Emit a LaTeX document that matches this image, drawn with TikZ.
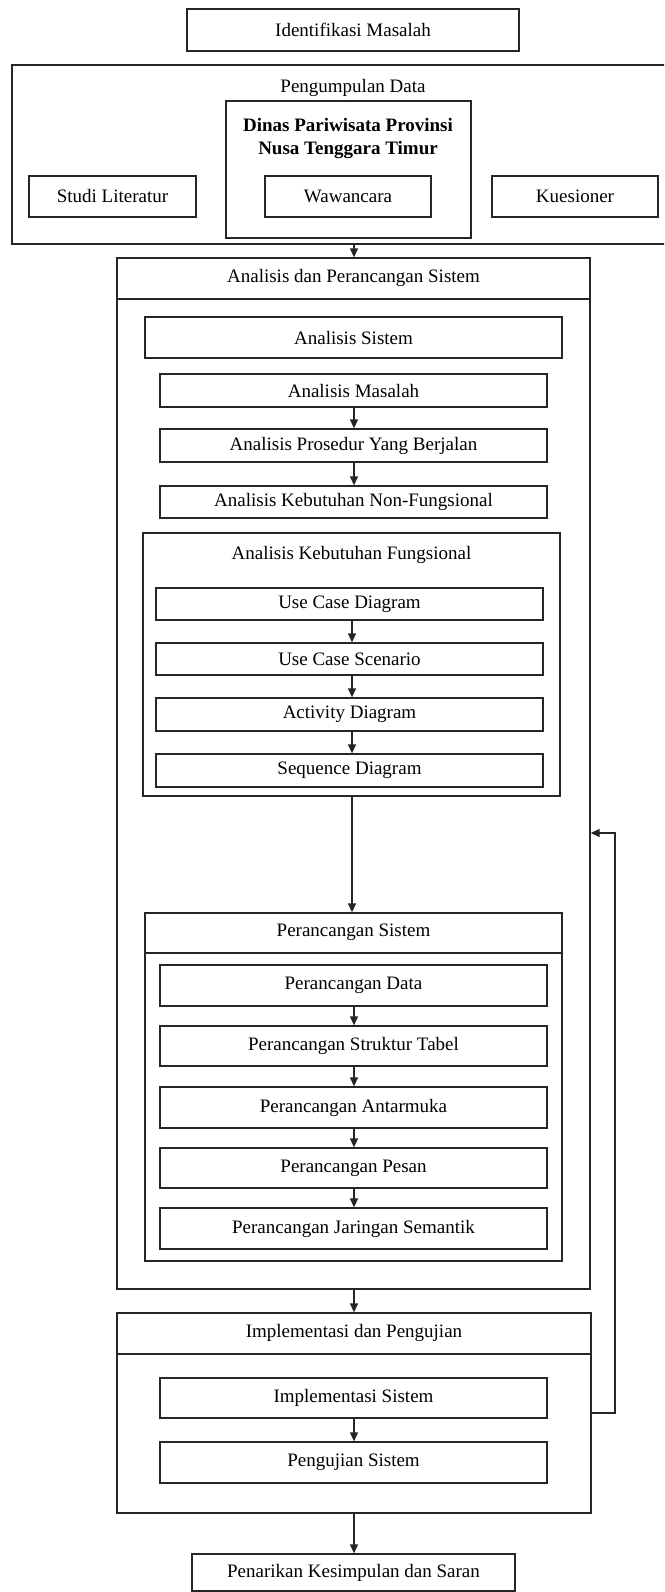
\documentclass[tikz,border=0pt]{standalone}
\usepackage{fontspec}
\setmainfont{Liberation Serif}
\usetikzlibrary{arrows.meta}
\newcommand\diafont{\fontsize{19}{23}\selectfont}
\begin{document}
\begin{tikzpicture}[x=1pt,y=-1pt,
  box/.style={draw=black!85, line width=1.3pt, inner sep=0pt, font=\diafont, align=center},
  lbl/.style={inner sep=0pt, font=\diafont, align=center},
  arr/.style={draw=black!85, line width=1.3pt, -{Triangle[length=9pt,width=8pt]}},
  sep/.style={draw=black!85, line width=1.3pt}]
\useasboundingbox (0,0) rectangle (664,1592);
\clip (0,0) rectangle (664,1592);
\fill[white] (0,0) rectangle (664,1592);
\coordinate (axis) at (354,0);
\coordinate (axisb) at (352,0);
% top
\node[box, minimum width=332, minimum height=42] (ident) at (353,30) {Identifikasi Masalah};
\node[box, minimum width=660, minimum height=179] (pd) at (342,154.5) {};
\node[lbl] (pdt) at (353,88) {Pengumpulan Data};
\node[box, minimum width=245, minimum height=137] (dinas) at (348.5,169.5) {};
\node[lbl, font=\diafont\bfseries] (dinast) at (348,139) {Dinas Pariwisata Provinsi\\Nusa Tenggara Timur};
\node[box, minimum width=167, minimum height=41] (studi) at (112.5,196.5) {Studi Literatur};
\node[box, minimum width=166, minimum height=41] (waw) at (348,196.5) {Wawancara};
\node[box, minimum width=166, minimum height=41] (kues) at (575,196.5) {Kuesioner};
% analisis dan perancangan
\node[box, minimum width=473, minimum height=1031] (aps) at (353.5,773.5) {};
\draw[sep] (aps.west |- 0,299) -- (aps.east |- 0,299);
\node[lbl] (apst) at (353.5,278) {Analisis dan Perancangan Sistem};
\draw[arr] (axis |- pd.south) -- (axis |- aps.north);
\node[box, minimum width=417, minimum height=41] (asis) at (353.5,337.5) {Analisis Sistem};
\node[box, minimum width=387, minimum height=33] (amas) at (353.5,390.5) {Analisis Masalah};
\node[box, minimum width=387, minimum height=33] (apros) at (353.5,445.5) {Analisis Prosedur Yang Berjalan};
\node[box, minimum width=387, minimum height=32] (anf) at (353.5,502) {Analisis Kebutuhan Non-Fungsional};
\draw[arr] (axis |- amas.south) -- (axis |- apros.north);
\draw[arr] (axis |- apros.south) -- (axis |- anf.north);
% fungsional
\node[box, minimum width=417, minimum height=263] (afung) at (351.5,664.5) {};
\node[lbl] (afungt) at (351.5,555) {Analisis Kebutuhan Fungsional};
\node[box, minimum width=387, minimum height=32] (ucd) at (349.5,604) {Use Case Diagram};
\node[box, minimum width=387, minimum height=32] (ucs) at (349.5,659) {Use Case Scenario};
\node[box, minimum width=387, minimum height=33] (act) at (349.5,714.5) {Activity Diagram};
\node[box, minimum width=387, minimum height=33] (seq) at (349.5,770.5) {Sequence Diagram};
\draw[arr] (axisb |- ucd.south) -- (axisb |- ucs.north);
\draw[arr] (axisb |- ucs.south) -- (axisb |- act.north);
\draw[arr] (axisb |- act.south) -- (axisb |- seq.north);
% perancangan sistem
\node[box, minimum width=417, minimum height=348] (prs) at (353.5,1087) {};
\draw[sep] (prs.west |- 0,953) -- (prs.east |- 0,953);
\node[lbl] (prst) at (353.5,932) {Perancangan Sistem};
\draw[arr] (axisb |- afung.south) -- (axisb |- prs.north);
\node[box, minimum width=387, minimum height=41] (pdata) at (353.5,985.5) {Perancangan Data};
\node[box, minimum width=387, minimum height=40] (pstr) at (353.5,1046) {Perancangan Struktur Tabel};
\node[box, minimum width=387, minimum height=41] (pant) at (353.5,1107.5) {Perancangan Antarmuka};
\node[box, minimum width=387, minimum height=40] (ppes) at (353.5,1168) {Perancangan Pesan};
\node[box, minimum width=387, minimum height=41] (pjar) at (353.5,1228.5) {Perancangan Jaringan Semantik};
\draw[arr] (axis |- pdata.south) -- (axis |- pstr.north);
\draw[arr] (axis |- pstr.south) -- (axis |- pant.north);
\draw[arr] (axis |- pant.south) -- (axis |- ppes.north);
\draw[arr] (axis |- ppes.south) -- (axis |- pjar.north);
% implementasi
\node[box, minimum width=474, minimum height=200] (ip) at (354,1413) {};
\draw[sep] (ip.west |- 0,1354) -- (ip.east |- 0,1354);
\node[lbl] (ipt) at (354,1333) {Implementasi dan Pengujian};
\draw[arr] (axis |- aps.south) -- (axis |- ip.north);
\node[box, minimum width=387, minimum height=40] (isys) at (353.5,1398) {Implementasi Sistem};
\node[box, minimum width=387, minimum height=41] (psys) at (353.5,1462.5) {Pengujian Sistem};
\draw[arr] (axis |- isys.south) -- (axis |- psys.north);
% feedback
\coordinate (fb) at (615,833);
\draw[arr] (ip.east) -- (ip.east -| fb) -- (fb) -- (aps.east |- fb);
% penarikan
\node[box, minimum width=323, minimum height=37] (pen) at (353.5,1572.5) {Penarikan Kesimpulan dan Saran};
\draw[arr] (axis |- ip.south) -- (axis |- pen.north);
\end{tikzpicture}
\end{document}
